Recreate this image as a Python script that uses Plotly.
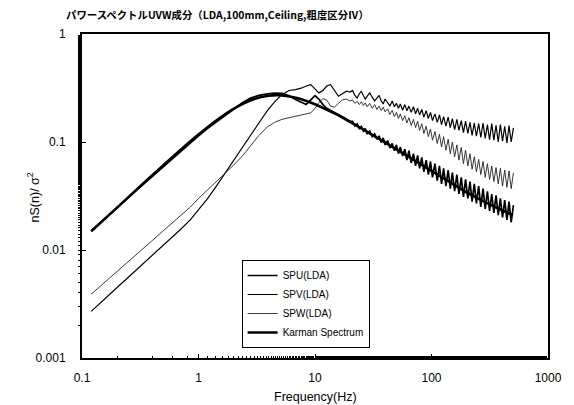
import plotly.graph_objects as go

# ---------------- data ----------------
freq_hz = [
    0.12, 0.15, 0.2, 0.25, 0.3, 0.4, 0.5, 0.6, 0.7, 0.85,
    1.0, 1.2, 1.4, 1.7, 2.0, 2.4, 2.8, 3.3, 3.9, 4.5,
    5.2, 6.0, 6.8, 7.6, 8.4, 9.2, 10.0, 10.8, 11.7, 12.6,
    13.6, 14.7, 15.9, 17.2, 18.6, 20.0,
    21, 22, 23, 24, 25, 26, 27, 28, 29.5, 31,
    32.5, 34, 35.5, 37, 38.5, 40, 42, 44, 46, 48,
    50, 52, 54, 56.5, 59, 61.5, 64, 67, 70, 73,
    76, 79, 82.5, 86, 90, 94, 98, 102, 107, 112,
    117, 122, 127, 133, 139, 145, 151, 158, 165, 172,
    180, 188, 196, 205, 214, 223, 233, 243, 254, 265,
    277, 289, 302, 315, 329, 343, 358, 374, 390, 407,
    425, 444, 463, 483, 505,
]

spu_lda = [
    0.0150, 0.0185, 0.0245, 0.0305, 0.0365, 0.048, 0.060, 0.071, 0.082, 0.099,
    0.114, 0.134, 0.152, 0.177, 0.200, 0.232, 0.255, 0.270, 0.279, 0.283,
    0.282, 0.268, 0.248, 0.232, 0.222, 0.245, 0.268, 0.250, 0.222, 0.205,
    0.196, 0.190, 0.180, 0.172, 0.163, 0.155,
    0.155, 0.141, 0.147, 0.133, 0.139, 0.126, 0.133, 0.120, 0.126, 0.112,
    0.119, 0.106, 0.114, 0.099, 0.109, 0.094, 0.103, 0.088, 0.097, 0.083,
    0.094, 0.078, 0.090, 0.074, 0.086, 0.068, 0.083, 0.064, 0.078, 0.060,
    0.075, 0.057, 0.072, 0.053, 0.068, 0.050, 0.066, 0.047, 0.063, 0.044,
    0.060, 0.041, 0.057, 0.039, 0.055, 0.037, 0.052, 0.035, 0.050, 0.033,
    0.047, 0.031, 0.045, 0.030, 0.043, 0.028, 0.041, 0.027, 0.039, 0.025,
    0.037, 0.024, 0.035, 0.023, 0.033, 0.022, 0.032, 0.021, 0.030, 0.020,
    0.029, 0.019, 0.028, 0.018, 0.026,
]

spv_lda = [
    0.0027, 0.0034, 0.0045, 0.0056, 0.0067, 0.0089, 0.011, 0.0133, 0.0155, 0.019,
    0.0235, 0.030, 0.038, 0.052, 0.068, 0.092, 0.118, 0.150, 0.195, 0.235,
    0.275, 0.300, 0.305, 0.315, 0.330, 0.340, 0.310, 0.285, 0.300, 0.330,
    0.340, 0.300, 0.265, 0.280, 0.295, 0.290,
    0.300, 0.270, 0.255, 0.280, 0.295, 0.270, 0.250, 0.265, 0.285, 0.260,
    0.240, 0.255, 0.270, 0.240, 0.225, 0.250, 0.232, 0.215, 0.240, 0.212,
    0.228, 0.205, 0.225, 0.198, 0.222, 0.195, 0.215, 0.188, 0.212, 0.182,
    0.205, 0.178, 0.200, 0.170, 0.195, 0.165, 0.188, 0.158, 0.182, 0.152,
    0.178, 0.145, 0.172, 0.140, 0.170, 0.136, 0.165, 0.130, 0.162, 0.128,
    0.158, 0.122, 0.156, 0.120, 0.152, 0.115, 0.150, 0.113, 0.148, 0.110,
    0.150, 0.108, 0.145, 0.105, 0.148, 0.104, 0.143, 0.100, 0.145, 0.102,
    0.140, 0.098, 0.142, 0.100, 0.135,
]

spw_lda = [
    0.0039, 0.0048, 0.0063, 0.0078, 0.0093, 0.0122, 0.0151, 0.018, 0.021, 0.025,
    0.030, 0.036, 0.042, 0.051, 0.061, 0.075, 0.092, 0.115, 0.138, 0.152,
    0.162, 0.168, 0.172, 0.178, 0.182, 0.186, 0.205, 0.232, 0.252, 0.245,
    0.215, 0.210, 0.228, 0.245, 0.250, 0.240,
    0.245, 0.228, 0.238, 0.222, 0.236, 0.218, 0.230, 0.212, 0.228, 0.205,
    0.222, 0.200, 0.215, 0.195, 0.210, 0.190, 0.203, 0.180, 0.196, 0.172,
    0.188, 0.165, 0.182, 0.158, 0.175, 0.150, 0.168, 0.142, 0.162, 0.136,
    0.156, 0.128, 0.148, 0.120, 0.140, 0.112, 0.132, 0.104, 0.125, 0.097,
    0.118, 0.090, 0.112, 0.084, 0.106, 0.078, 0.100, 0.073, 0.094, 0.068,
    0.089, 0.063, 0.084, 0.060, 0.078, 0.056, 0.073, 0.053, 0.069, 0.050,
    0.066, 0.047, 0.063, 0.045, 0.060, 0.043, 0.058, 0.041, 0.057, 0.039,
    0.055, 0.038, 0.054, 0.037, 0.052,
]

karman_freq = [0.12, 0.2, 0.3, 0.5, 0.7, 1, 1.5, 2, 3, 4, 5, 7, 10, 15, 20,
               30, 50, 70, 100, 150, 200, 300, 500]
karman_spectrum = [0.0149, 0.0247, 0.037, 0.0611, 0.0845, 0.1174, 0.1652,
                   0.2029, 0.2498, 0.2685, 0.2709, 0.2558, 0.2239, 0.1818,
                   0.1535, 0.1191, 0.0855, 0.0685, 0.0541, 0.0413, 0.0341,
                   0.0272, 0.021]

y_tick_vals = [0.001, 0.01, 0.1, 1]
y_tick_text = ["0.001", "0.01", "0.1", "1"]
x_tick_vals = [0.1, 1, 10, 100, 1000]
x_tick_text = ["0.1", "1", "10", "100", "1000"]

title_text = "パワースペクトルUVW成分（LDA,100mm,Ceiling,粗度区分Ⅳ）"

# ---------------- figure ----------------
FONT = "Liberation Sans, Arial, sans-serif"
fig = go.Figure()
fig.add_trace(go.Scatter(x=freq_hz, y=spu_lda, mode="lines", name="SPU(LDA)",
                         line=dict(color="#000000", width=1.7)))
fig.add_trace(go.Scatter(x=freq_hz, y=spv_lda, mode="lines", name="SPV(LDA)",
                         line=dict(color="#000000", width=1.2)))
fig.add_trace(go.Scatter(x=freq_hz, y=spw_lda, mode="lines", name="SPW(LDA)",
                         line=dict(color="#222222", width=0.9)))
fig.add_trace(go.Scatter(x=karman_freq, y=karman_spectrum, mode="lines",
                         name="Karman Spectrum", line_shape="spline",
                         line=dict(color="#000000", width=2.6)))

fig.update_layout(
    width=574, height=405,
    margin=dict(l=82, r=22, t=34, b=47),
    paper_bgcolor="white", plot_bgcolor="white",
    font=dict(family=FONT, size=11, color="#000000"),
    showlegend=True,
    legend=dict(x=(243 - 82) / 470, y=(358 - 260) / 324,
                xanchor="left", yanchor="top",
                bgcolor="white", bordercolor="#000000", borderwidth=1,
                font=dict(family=FONT, size=10, color="#000000"),
                itemwidth=30, tracegroupgap=0),
    title=dict(text="<b>" + title_text + "</b>", x=66 / 574, xanchor="left",
               xref="container", y=1 - 15 / 405, yanchor="middle", yref="container",
               font=dict(family="Noto Sans CJK JP", size=10.4, color="#000000")),
)

fig.update_xaxes(type="log", range=[-1, 3], tickvals=x_tick_vals,
                 ticktext=x_tick_text, showgrid=False, zeroline=False,
                 showline=True, linecolor="#000000", linewidth=2, mirror=True,
                 ticks="inside", ticklen=4, tickcolor="#000000",
                 ticklabelstandoff=8,
                 minor=dict(ticks="inside", ticklen=2, tickcolor="#000000",
                            showgrid=False),
                 tickfont=dict(family=FONT, size=12, color="#000000"))
fig.update_yaxes(type="log", range=[-3, 0], tickvals=y_tick_vals,
                 ticktext=y_tick_text, showgrid=False, zeroline=False,
                 showline=True, linecolor="#000000", linewidth=2, mirror=True,
                 ticks="inside", ticklen=4, tickcolor="#000000",
                 ticklabelstandoff=12,
                 minor=dict(ticks="outside", ticklen=2, tickcolor="#000000",
                            showgrid=False),
                 tickfont=dict(family=FONT, size=12, color="#000000"))

fig.add_annotation(text="Frequency(Hz)", xref="paper", yref="paper",
                   x=0.5, y=(358 - 397) / 324, xanchor="center", yanchor="middle",
                   showarrow=False, font=dict(family=FONT, size=12.5, color="#000000"))
fig.add_annotation(text="nS(n)/ σ<sup>2</sup>", xref="paper", yref="paper",
                   x=(33 - 82) / 470, y=(358 - 197) / 324,
                   xanchor="center", yanchor="middle",
                   textangle=-90, showarrow=False,
                   font=dict(family=FONT, size=12.5, color="#000000"))

fig.write_html("out.html")
